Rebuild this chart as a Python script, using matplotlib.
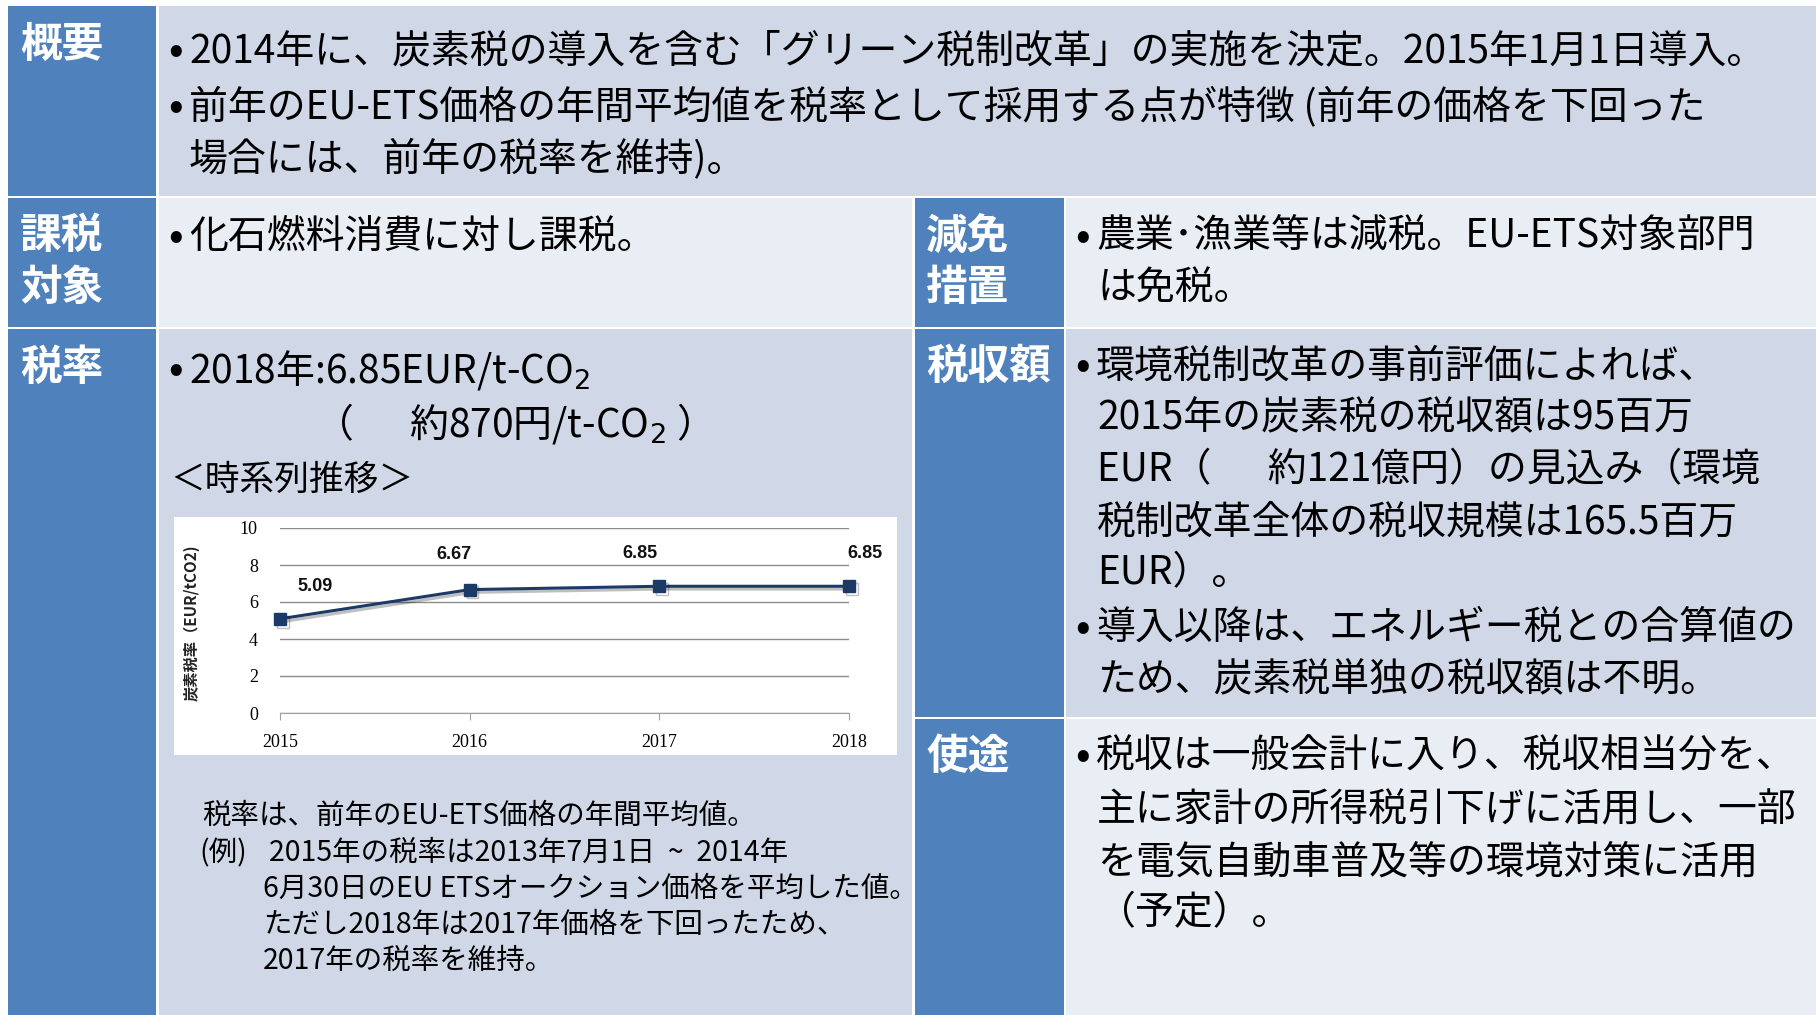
import matplotlib
matplotlib.use("Agg")
import matplotlib.pyplot as plt
import matplotlib.patheffects as pe
from matplotlib.patches import Rectangle

plt.rcParams['font.family'] = ['Noto Sans CJK JP', 'DejaVu Sans']
FONT = ['Noto Sans CJK JP', 'DejaVu Sans']

# ---- chart data ----
years = ["2015", "2016", "2017", "2018"]
rates = [5.09, 6.67, 6.85, 6.85]
rate_labels = ["5.09", "6.67", "6.85", "6.85"]
y_ticks = [0, 2, 4, 6, 8, 10]
y_label = "炭素税率（EUR/tCO2)"

# ---- table text ----
headers = ["概要", "課税\n対象", "税率", "減免\n措置", "税収額", "使途"]
overview = [
    "•2014年に、炭素税の導入を含む「グリーン税制改革」の実施を決定。2015年1月1日導入。",
    "•前年のEU-ETS価格の年間平均値を税率として採用する点が特徴 (前年の価格を下回った",
    "場合には、前年の税率を維持)。",
]
taxable = ["•化石燃料消費に対し課税。"]
relief = ["•農業･漁業等は減税。EU-ETS対象部門", "は免税。"]
rate_text = ["•2018年:6.85EUR/t-CO$_2$", "（　  約870円/t-CO$_2$ ）"]
series_title = "＜時系列推移＞"
revenue = [
    "•環境税制改革の事前評価によれば、",
    "2015年の炭素税の税収額は95百万",
    "EUR（　  約121億円）の見込み（環境",
    "税制改革全体の税収規模は165.5百万",
    "EUR）。",
    "•導入以降は、エネルギー税との合算値の",
    "ため、炭素税単独の税収額は不明。",
]
usage = [
    "•税収は一般会計に入り、税収相当分を、",
    "主に家計の所得税引下げに活用し、一部",
    "を電気自動車普及等の環境対策に活用",
    "（予定）。",
]
note_prefix = "(例)"
note = [
    "税率は、前年のEU-ETS価格の年間平均値。",
    "2015年の税率は2013年7月1日  ~  2014年",
    "6月30日のEU ETSオークション価格を平均した値。",
    "ただし2018年は2017年価格を下回ったため、",
    "2017年の税率を維持。",
]

W, H = 1816, 1015
BLUE = "#4F81BD"
BAND1 = "#D0D8E8"
BAND2 = "#E9EDF4"
NAVY = "#1B3A66"

fig = plt.figure(figsize=(W / 100, H / 100), dpi=100)
fig.patch.set_facecolor("white")
ax = fig.add_axes([0, 0, 1, 1])
ax.set_xlim(0, W)
ax.set_ylim(H, 0)
ax.axis("off")

cells = [
    (8, 6, 156, 196, BLUE), (159, 6, 1816, 196, BAND1),
    (8, 198, 156, 327, BLUE), (159, 198, 912, 327, BAND2),
    (915, 198, 1064, 327, BLUE), (1066, 198, 1816, 327, BAND2),
    (8, 329, 156, 1015, BLUE), (159, 329, 912, 1015, BAND1),
    (915, 329, 1064, 717, BLUE), (1066, 329, 1816, 717, BAND1),
    (915, 719, 1064, 1015, BLUE), (1066, 719, 1816, 1015, BAND2),
]
for x0, y0, x1, y1, c in cells:
    ax.add_patch(Rectangle((x0, y0), x1 - x0, y1 - y0, facecolor=c, edgecolor="none"))

# headers
HS = 30
head_pos = [(20, [45]), (20, [236, 288]), (20, [368]),
            (926, [237, 288]), (926, [367]), (926, [757])]
for text, (hx, ys) in zip(headers, head_pos):
    for line, hy in zip(text.split("\n"), ys):
        ax.text(hx, hy, line, fontsize=HS, fontweight="bold", color="white",
                ha="left", va="center", family=FONT)

FS = 28


def put(lines, xs, ys, size=FS):
    for s, x, y in zip(lines, xs, ys):
        if s.startswith("•"):
            ax.text(x, y, "•", fontsize=size, color="black", ha="left", va="center",
                    family=FONT, fontweight="bold")
            s = s[1:]
            x += 21
        ax.text(x, y, s, fontsize=size, color="black", ha="left", va="center", family=FONT)


put(overview, [168, 168, 189], [51, 107, 159])
put(taxable, [168], [237])
put(relief, [1075, 1097], [237, 289])
put(rate_text, [168, 314], [370, 423])
put([series_title], [170], [480], size=25)
put(revenue, [1075, 1097, 1097, 1097, 1097, 1075, 1097],
    [367, 418, 470, 522, 573, 628, 680])
put(usage, [1075, 1097, 1097, 1097], [757, 810, 862, 913])

NS = 20.5
put([note[0]], [202], [816], size=NS)
put([note_prefix], [199], [853], size=NS)
put(note[1:], [269, 263, 263, 263], [853, 889, 925, 961], size=NS)

# chart box
ax.add_patch(Rectangle((174, 517), 723, 238, facecolor="white", edgecolor="none"))
ax.text(192, 623, y_label, rotation=90, fontsize=11, fontweight="bold",
        ha="center", va="center", family=FONT, color="#222222")

cax = fig.add_axes([280 / W, 1 - 713 / H, 569 / W, 185 / H])
cax.patch.set_visible(False)
x = list(range(len(years)))
cax.plot(x, rates, color=NAVY, lw=2.2, marker="s", ms=8.5, clip_on=False, zorder=3,
         path_effects=[pe.SimpleLineShadow(offset=(2, -2), alpha=0.25), pe.Normal()])
offsets = [(35, 32), (-16, 35), (-19, 33), (16, 33)]
for xi, v, lab, off in zip(x, rates, rate_labels, offsets):
    cax.annotate(lab, (xi, v), xytext=off, textcoords="offset pixels",
                 ha="center", va="center", fontsize=13, fontweight="bold",
                 family="Liberation Sans", color="#111111")
cax.set_xlim(0, len(years) - 1)
cax.set_ylim(0, 10)
cax.set_yticks(y_ticks)
cax.set_xticks(x)
cax.set_xticklabels(years)
for lab in cax.get_xticklabels() + cax.get_yticklabels():
    lab.set_family("Liberation Serif")
    lab.set_fontsize(13)
cax.grid(axis="y", color="#8C8C8C", lw=1.0)
cax.set_axisbelow(True)
for s in ["left", "right", "top"]:
    cax.spines[s].set_visible(False)
cax.spines["bottom"].set_color("#A0A0A0")
cax.tick_params(axis="y", length=0, pad=16)
cax.tick_params(axis="x", length=5, color="#A0A0A0", pad=10)

fig.savefig("out.png", dpi=100, facecolor="white")
